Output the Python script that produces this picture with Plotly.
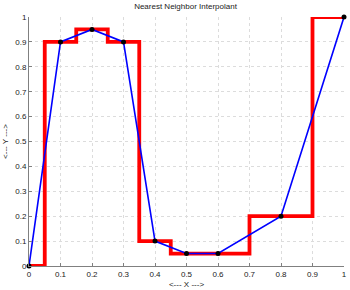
import plotly.graph_objects as go

x_data = [0, 0.1, 0.2, 0.3, 0.4, 0.5, 0.6, 0.8, 1.0]
y_data = [0, 0.9, 0.95, 0.9, 0.1, 0.05, 0.05, 0.2, 1.0]
tick_vals = [0, 0.1, 0.2, 0.3, 0.4, 0.5, 0.6, 0.7, 0.8, 0.9, 1]
tick_text = ["0", "0.1", "0.2", "0.3", "0.4", "0.5", "0.6", "0.7", "0.8", "0.9", "1"]

FONT = "Liberation Sans, Arial"

fig = go.Figure()
fig.add_trace(go.Scatter(x=x_data, y=y_data, mode="lines", line=dict(color="#ff0000", width=3.8, shape="hvh"), hoverinfo="skip"))
fig.add_trace(go.Scatter(x=x_data, y=y_data, mode="lines+markers", line=dict(color="#0000ff", width=1.6),
                         marker=dict(color="black", size=5), cliponaxis=False))

axis_common = dict(
    range=[0, 1], tickvals=tick_vals, ticktext=tick_text,
    showgrid=True, gridcolor="#dcdcdc", griddash="dot", gridwidth=1,
    zeroline=False, showline=True, linecolor="#808080", linewidth=1,
    ticks="inside", ticklen=3, tickcolor="#808080",
    tickfont=dict(family=FONT, size=8, color="#222222"),
)
fig.update_xaxes(**axis_common, title=dict(text="<--- X --->", font=dict(family=FONT, size=8, color="#222222"), standoff=3))
fig.update_yaxes(**axis_common, title=dict(text="<--- Y --->", font=dict(family=FONT, size=8, color="#222222"), standoff=5))

fig.update_layout(
    width=350, height=290,
    margin=dict(l=29, r=3, t=17, b=22),
    paper_bgcolor="white", plot_bgcolor="white",
    showlegend=False,
    title=dict(text="Nearest Neighbor Interpolant", x=0.53, xanchor="center", y=0.99, yanchor="top",
               font=dict(family=FONT, size=8, color="#222222")),
)
fig.write_html("out.html", config={"displayModeBar": False},
               post_script="document.body.style.margin='0';document.body.style.padding='0';")
